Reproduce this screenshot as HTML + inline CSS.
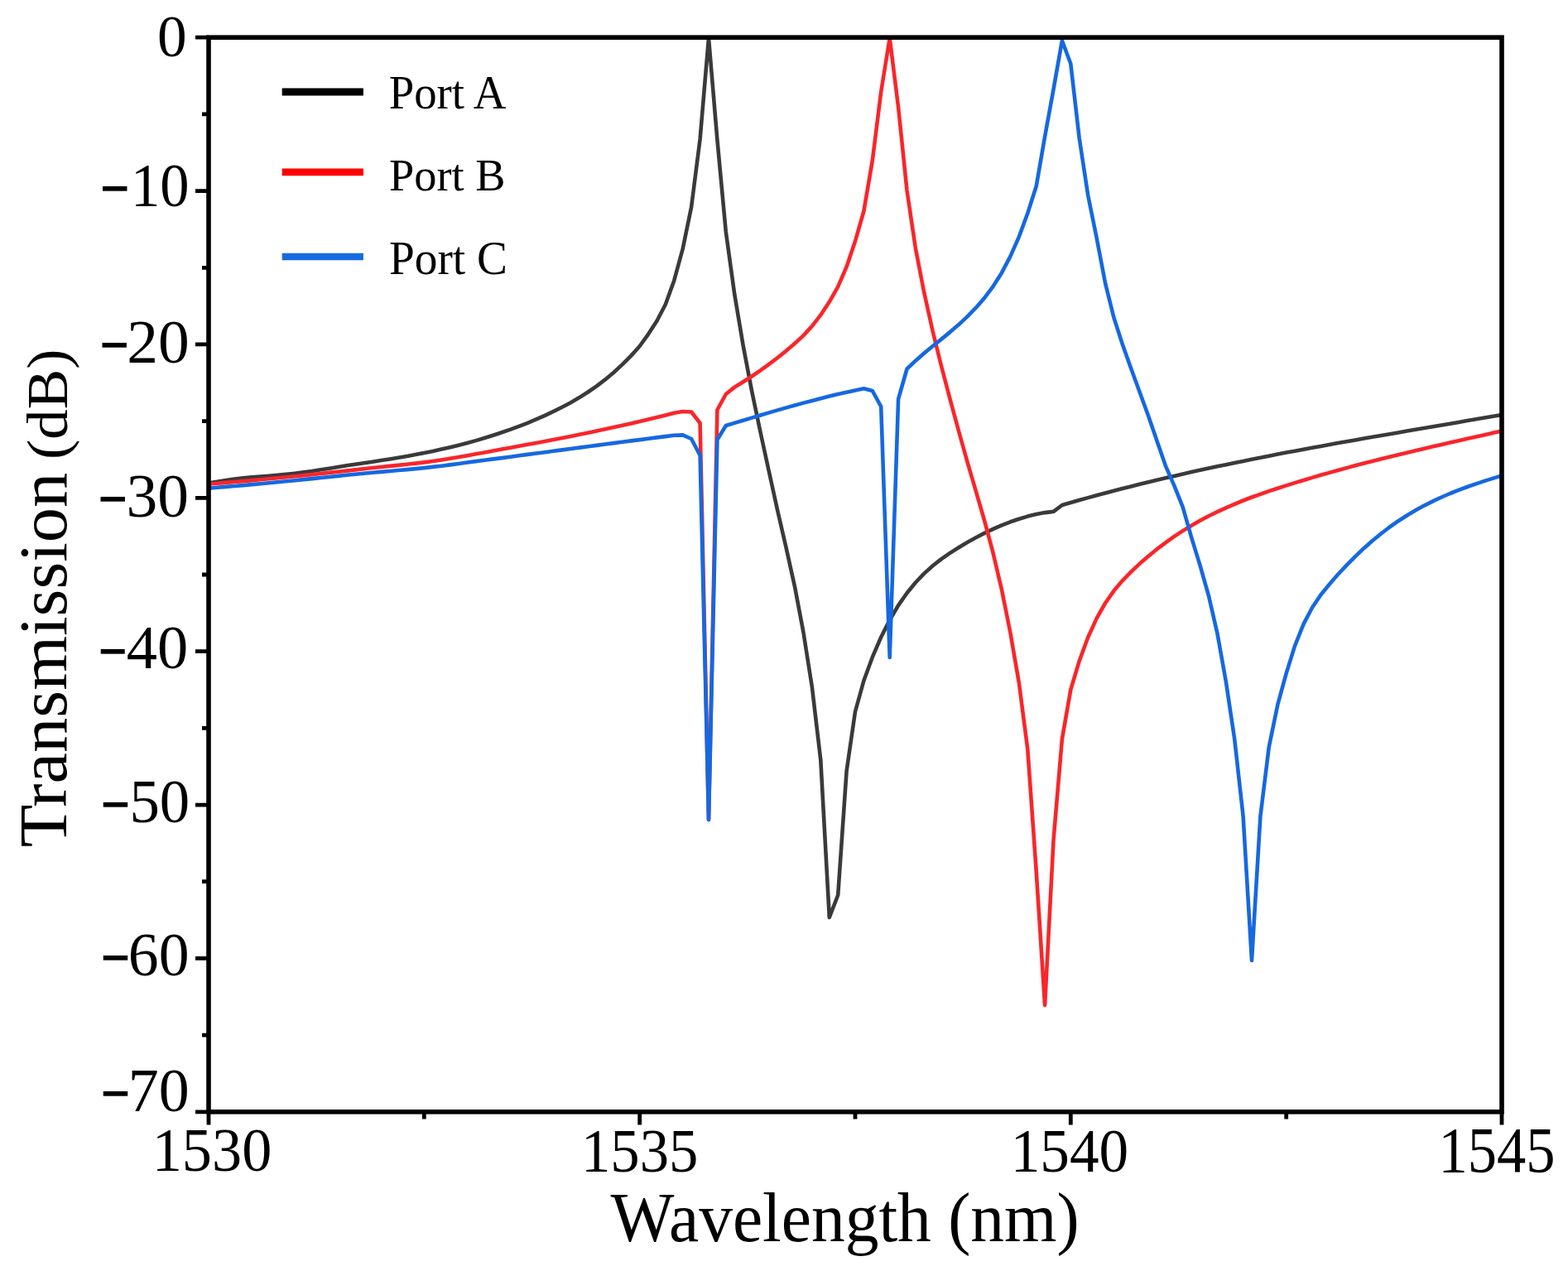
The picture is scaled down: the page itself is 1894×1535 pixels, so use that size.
<!DOCTYPE html>
<html><head><meta charset="utf-8"><title>Transmission spectrum</title>
<style>
html,body{margin:0;padding:0;background:#fff;}
body{width:1894px;height:1535px;overflow:hidden;}
svg{display:block;}
text{font-family:"Liberation Serif","Times New Roman",serif;fill:#000;}
.tk{font-size:74.5px;}
.tt{font-size:79.0px;}
.lg{font-size:56.5px;}
</style></head>
<body>
<svg width="1894" height="1535" viewBox="0 0 1894 1535">
<rect width="1894" height="1535" fill="#fff"/>
<path d="M252.0 583.4 262.4 581.8 272.8 580.1 283.2 578.6 293.7 577.3 304.1 576.4 314.5 575.5 324.9 574.7 335.3 573.8 345.7 572.8 356.1 571.7 366.5 570.4 377.0 569.0 387.4 567.3 397.8 565.7 408.2 564.0 418.6 562.3 429.0 560.7 439.4 559.2 449.9 557.7 460.3 556.1 470.7 554.5 481.1 552.8 491.5 551.0 501.9 549.0 512.3 547.0 522.7 544.9 533.2 542.6 543.6 540.2 554.0 537.7 564.4 535.0 574.8 532.1 585.2 529.0 595.6 525.7 606.1 522.3 616.5 518.7 626.9 514.8 637.3 510.8 647.7 506.4 658.1 501.8 668.5 496.9 678.9 491.7 689.4 486.2 699.8 480.1 710.2 473.5 720.6 466.3 731.0 458.4 741.4 449.7 751.8 440.1 762.3 429.6 772.7 418.0 783.1 403.6 793.5 387.5 803.9 367.5 814.3 338.7 824.7 300.5 835.1 250.0 845.6 168.0 856.0 46.0 866.4 169.0 876.8 280.0 887.2 355.0 897.6 417.0 908.0 471.7 918.5 521.9 928.9 569.8 939.3 617.1 949.7 662.0 960.1 709.0 970.5 764.0 980.9 830.0 991.3 918.0 1001.8 1108.0 1012.2 1081.0 1022.6 931.0 1033.0 859.5 1043.4 822.0 1053.8 793.7 1064.2 769.5 1074.7 748.8 1085.1 731.1 1095.5 716.2 1105.9 703.5 1116.3 692.6 1126.7 683.3 1137.1 675.1 1147.5 667.9 1158.0 661.3 1168.4 655.1 1178.8 649.3 1189.2 643.9 1199.6 638.9 1210.0 634.3 1220.4 630.3 1230.9 626.7 1241.3 623.6 1251.7 621.1 1262.1 619.1 1272.5 617.8 1282.9 610.0 1293.3 607.0 1303.7 604.0 1314.2 601.1 1324.6 598.3 1335.0 595.5 1345.4 592.7 1355.8 590.0 1366.2 587.4 1376.6 584.8 1387.1 582.2 1397.5 579.7 1407.9 577.3 1418.3 574.9 1428.7 572.5 1439.1 570.1 1449.5 567.8 1459.9 565.6 1470.4 563.3 1480.8 561.2 1491.2 559.0 1501.6 556.9 1512.0 554.8 1522.4 552.7 1532.8 550.7 1543.3 548.6 1553.7 546.6 1564.1 544.7 1574.5 542.7 1584.9 540.8 1595.3 538.9 1605.7 537.0 1616.1 535.1 1626.6 533.3 1637.0 531.4 1647.4 529.6 1657.8 527.8 1668.2 526.0 1678.6 524.2 1689.0 522.4 1699.5 520.6 1709.9 518.8 1720.3 517.0 1730.7 515.2 1741.1 513.5 1751.5 511.7 1761.9 509.9 1772.3 508.1 1782.8 506.3 1793.2 504.5 1803.6 502.7 1814.0 500.9" stroke="#3a3a3a" stroke-width="4.6" fill="none" stroke-linejoin="round"/>
<path d="M252.0 584.7 262.4 583.8 272.8 582.9 283.2 582.0 293.7 581.1 304.1 580.1 314.5 579.2 324.9 578.2 335.3 577.2 345.7 576.2 356.1 575.2 366.5 574.1 377.0 573.1 387.4 572.0 397.8 570.9 408.2 569.7 418.6 568.6 429.0 567.4 439.4 566.2 449.9 565.0 460.3 564.0 470.7 562.9 481.1 561.9 491.5 560.7 501.9 559.6 512.3 558.4 522.7 557.0 533.2 555.5 543.6 553.8 554.0 552.1 564.4 550.2 574.8 548.3 585.2 546.4 595.6 544.5 606.1 542.6 616.5 540.7 626.9 538.8 637.3 536.8 647.7 534.9 658.1 532.9 668.5 530.9 678.9 528.9 689.4 526.9 699.8 524.8 710.2 522.7 720.6 520.5 731.0 518.3 741.4 516.1 751.8 513.8 762.3 511.4 772.7 509.0 783.1 506.5 793.5 504.0 803.9 501.4 814.3 498.7 824.7 497.0 835.1 497.5 845.6 511.0 856.0 990.0 866.4 495.0 876.8 476.0 887.2 467.6 897.6 461.2 908.0 454.5 918.5 447.4 928.9 439.9 939.3 432.0 949.7 423.6 960.1 414.8 970.5 405.1 980.9 393.9 991.3 380.4 1001.8 364.6 1012.2 346.2 1022.6 322.2 1033.0 291.3 1043.4 255.0 1053.8 194.0 1064.2 111.0 1074.7 46.0 1085.1 129.5 1095.5 230.0 1105.9 300.0 1116.3 353.6 1126.7 400.2 1137.1 442.2 1147.5 481.8 1158.0 520.5 1168.4 557.6 1178.8 593.1 1189.2 629.0 1199.6 667.9 1210.0 712.3 1220.4 764.1 1230.9 825.0 1241.3 905.0 1251.7 1052.0 1262.1 1214.0 1272.5 1015.0 1282.9 892.5 1293.3 833.0 1303.7 798.2 1314.2 769.8 1324.6 746.9 1335.0 728.5 1345.4 713.6 1355.8 701.3 1366.2 690.6 1376.6 680.8 1387.1 671.7 1397.5 663.2 1407.9 655.3 1418.3 647.9 1428.7 641.1 1439.1 634.7 1449.5 628.8 1459.9 623.2 1470.4 618.1 1480.8 613.3 1491.2 608.8 1501.6 604.5 1512.0 600.5 1522.4 596.8 1532.8 593.2 1543.3 589.7 1553.7 586.4 1564.1 583.1 1574.5 580.0 1584.9 576.9 1595.3 573.8 1605.7 570.9 1616.1 568.0 1626.6 565.1 1637.0 562.3 1647.4 559.6 1657.8 556.9 1668.2 554.3 1678.6 551.7 1689.0 549.2 1699.5 546.7 1709.9 544.2 1720.3 541.7 1730.7 539.3 1741.1 536.9 1751.5 534.5 1761.9 532.2 1772.3 529.8 1782.8 527.5 1793.2 525.2 1803.6 522.8 1814.0 520.5" stroke="#f8262b" stroke-width="4.6" fill="none" stroke-linejoin="round"/>
<path d="M252.0 589.7 262.4 588.8 272.8 587.9 283.2 587.0 293.7 586.1 304.1 585.1 314.5 584.2 324.9 583.2 335.3 582.2 345.7 581.2 356.1 580.2 366.5 579.1 377.0 578.1 387.4 577.0 397.8 576.0 408.2 574.9 418.6 573.8 429.0 572.7 439.4 571.8 449.9 570.7 460.3 569.9 470.7 569.0 481.1 568.0 491.5 567.1 501.9 566.1 512.3 565.1 522.7 563.9 533.2 562.7 543.6 561.4 554.0 560.0 564.4 558.5 574.8 557.1 585.2 555.8 595.6 554.4 606.1 553.1 616.5 551.7 626.9 550.3 637.3 548.9 647.7 547.5 658.1 546.2 668.5 544.8 678.9 543.4 689.4 542.0 699.8 540.6 710.2 539.3 720.6 537.9 731.0 536.5 741.4 535.1 751.8 533.8 762.3 532.4 772.7 531.1 783.1 529.7 793.5 528.4 803.9 527.1 814.3 525.8 824.7 525.4 835.1 530.0 845.6 550.0 856.0 990.0 866.4 531.0 876.8 514.0 887.2 510.9 897.6 507.7 908.0 504.6 918.5 501.5 928.9 498.4 939.3 495.4 949.7 492.4 960.1 489.5 970.5 486.6 980.9 483.9 991.3 481.2 1001.8 478.6 1012.2 476.1 1022.6 473.7 1033.0 471.4 1043.4 469.3 1053.8 472.0 1064.2 491.0 1074.7 794.0 1085.1 482.0 1095.5 445.5 1105.9 435.7 1116.3 426.6 1126.7 418.0 1137.1 409.6 1147.5 401.1 1158.0 392.1 1168.4 382.4 1178.8 371.7 1189.2 359.7 1199.6 345.8 1210.0 329.4 1220.4 309.6 1230.9 285.9 1241.3 257.5 1251.7 225.0 1262.1 165.0 1272.5 108.0 1282.9 49.0 1293.3 77.0 1303.7 167.0 1314.2 235.9 1324.6 287.1 1335.0 341.6 1345.4 383.5 1355.8 415.7 1366.2 445.0 1376.6 473.5 1387.1 502.3 1397.5 532.4 1407.9 562.6 1418.3 586.3 1428.7 612.4 1439.1 648.8 1449.5 682.6 1459.9 719.3 1470.4 764.9 1480.8 822.9 1491.2 892.5 1501.6 985.5 1512.0 1160.0 1522.4 986.0 1532.8 902.0 1543.3 851.2 1553.7 813.1 1564.1 779.9 1574.5 753.9 1584.9 734.0 1595.3 718.5 1605.7 705.7 1616.1 693.8 1626.6 682.6 1637.0 672.1 1647.4 662.2 1657.8 653.0 1668.2 644.5 1678.6 636.5 1689.0 629.2 1699.5 622.5 1709.9 616.3 1720.3 610.6 1730.7 605.4 1741.1 600.5 1751.5 596.0 1761.9 591.9 1772.3 588.0 1782.8 584.4 1793.2 580.9 1803.6 577.6 1814.0 574.4" stroke="#1668e0" stroke-width="4.6" fill="none" stroke-linejoin="round"/>
<path d="M236 45.2H252.0 M236 230.6H252.0 M236 415.9H252.0 M236 601.3H252.0 M236 786.7H252.0 M236 972.1H252.0 M236 1157.4H252.0 M236 1342.8H252.0 M244 137.9H252.0 M244 323.3H252.0 M244 508.6H252.0 M244 694.0H252.0 M244 879.4H252.0 M244 1064.7H252.0 M244 1250.1H252.0 M252.0 1342.8V1358.5 M772.7 1342.8V1358.5 M1293.3 1342.8V1358.5 M1814.0 1342.8V1358.5 M512.3 1342.8V1351.5 M1033.0 1342.8V1351.5 M1553.7 1342.8V1351.5" stroke="#000" stroke-width="4.8" fill="none"/>
<rect x="252.0" y="45.2" width="1562.0" height="1297.6" stroke="#000" stroke-width="5.6" fill="none"/>
<text transform="translate(225.67 67.95) scale(0.9255 0.9427)" font-size="77" text-anchor="end">0</text>
<text transform="translate(228.46 249.15) scale(0.9164 0.9506)" font-size="77" text-anchor="end">10</text>
<text transform="translate(228.64 438.05) scale(0.9803 0.9544)" font-size="77" text-anchor="end">20</text>
<text transform="translate(227.94 623.86) scale(0.9801 0.9502)" font-size="77" text-anchor="end">30</text>
<text transform="translate(227.20 807.24) scale(0.9671 0.9502)" font-size="77" text-anchor="end">40</text>
<text transform="translate(229.25 992.84) scale(0.9457 0.9619)" font-size="77" text-anchor="end">50</text>
<text transform="translate(228.58 1177.54) scale(0.9578 0.9657)" font-size="77" text-anchor="end">60</text>
<text transform="translate(228.58 1342.15) scale(0.9595 0.9502)" font-size="77" text-anchor="end">70</text>
<text transform="translate(120.86 265.70) scale(0.8223 1.5000)" font-size="77" text-anchor="start">−</text>
<text transform="translate(120.14 455.25) scale(0.8223 1.5000)" font-size="77" text-anchor="start">−</text>
<text transform="translate(118.13 641.35) scale(0.8223 1.5000)" font-size="77" text-anchor="start">−</text>
<text transform="translate(118.47 824.65) scale(0.8111 1.5000)" font-size="77" text-anchor="start">−</text>
<text transform="translate(121.41 1010.35) scale(0.8223 1.5000)" font-size="77" text-anchor="start">−</text>
<text transform="translate(121.41 1195.00) scale(0.8223 1.5000)" font-size="77" text-anchor="start">−</text>
<text transform="translate(121.41 1358.70) scale(0.8223 1.5000)" font-size="77" text-anchor="start">−</text>
<text transform="translate(183.72 1414.23) scale(0.9389 0.9657)" font-size="77" text-anchor="start">1530</text>
<text transform="translate(702.03 1414.63) scale(0.9173 0.9578)" font-size="77" text-anchor="start">1535</text>
<text transform="translate(1220.69 1414.63) scale(0.9255 0.9578)" font-size="77" text-anchor="start">1540</text>
<text transform="translate(1737.46 1414.50) scale(0.9153 1.0039)" font-size="77" text-anchor="start">1545</text>
<text transform="translate(737.60 1498.86) scale(0.9819 1.0079)" font-size="83" text-anchor="start">Wavelength (nm)</text>
<text transform="translate(79.90 1023.31) rotate(-90) scale(1.0067 0.9698)" font-size="84" text-anchor="start">Transmission</text>
<text transform="translate(81.14 554.94) rotate(-90) scale(1.0111 0.9636)" font-size="72" text-anchor="start">(dB)</text>
<text transform="translate(469.72 130.87) scale(0.9790 1.0219)" font-size="56" text-anchor="start">Port A</text>
<text transform="translate(470.03 230.22) scale(0.9702 0.9797)" font-size="56" text-anchor="start">Port B</text>
<text transform="translate(470.01 330.88) scale(0.9872 1.0113)" font-size="56" text-anchor="start">Port C</text>
<path d="M340.7 111H438.9" stroke="#000" stroke-width="9"/>
<path d="M340.7 207.9H438.9" stroke="#ff0000" stroke-width="8.6"/>
<path d="M340.7 310H438.9" stroke="#166ae0" stroke-width="8.6"/>
</svg>
</body></html>
